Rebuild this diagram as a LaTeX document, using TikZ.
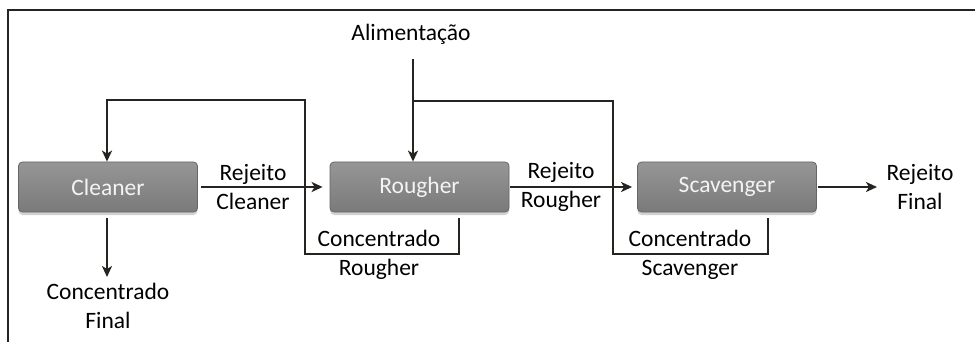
\documentclass[tikz,border=0pt]{standalone}
\usepackage{fontspec}
\setmainfont{Carlito}
\usetikzlibrary{arrows.meta,shadows,calc}
\definecolor{ln}{HTML}{262420}
\definecolor{boxtop}{HTML}{969696}
\definecolor{boxbot}{HTML}{7A7A7A}
\definecolor{boxedge}{HTML}{666666}
\definecolor{boxtxt}{HTML}{F4F4F4}
\begin{document}
\begin{tikzpicture}[x=1pt,y=-1pt,
  every node/.style={font=\fontsize{23.5}{29}\selectfont, inner sep=0pt},
  unit/.style={rectangle, rounded corners=4pt, minimum width=179pt, minimum height=50pt,
    top color=boxtop, bottom color=boxbot, draw=boxedge, line width=0.8pt,
    text=boxtxt, drop shadow={opacity=0.35, shadow xshift=0pt, shadow yshift=-3pt}},
  lbl/.style={align=center, text=black},
  wire/.style={draw=ln, line width=2pt},
  arr/.style={wire, -{Stealth[length=11pt, width=10pt, inset=3pt]}}]
\useasboundingbox (0,0) rectangle (975,342);
\fill[white] (0,0) rectangle (975,342);
% frame (top and left edges)
\draw[ln, line width=1.5pt] (8,342) -- (8,10) -- (975,10);

% units
\node[unit] (C) at (108,187) {Cleaner};
\node[unit] (R) at (419.5,187) {Rougher};
\node[unit] (S) at (727,187) {Scavenger};

% labels
\node[lbl] (A) at (411,34) {Alimentação};
\node[lbl] (lrc) at (253,187) {Rejeito\\Cleaner};
\node[lbl] (lrr) at (561,187) {Rejeito\\Rougher};
\node[lbl] (lrf) at (920,187) {Rejeito\\Final};
\node[lbl] (lcr) at (379,254.5) {Concentrado\\Rougher};
\node[lbl] (lcs) at (690,254.5) {Concentrado\\Scavenger};
\node[lbl] (lcf) at (108,306) {Concentrado\\Final};

% coordinates
\coordinate (feedtop) at (413,59);
\coordinate (feedj) at (413,101);
\coordinate (fin) at (877,187);
\coordinate (cfin) at (107,277);

% main line
\draw[arr, shorten <=3pt, shorten >=7pt] (C.east) -- (R.west);
\draw[arr, shorten <=1pt, shorten >=5pt] (R.east) -- (S.west);
\draw[arr, shorten <=1pt] (S.east) -- (fin);
\draw[arr] ([xshift=-1pt,yshift=-6pt]C.south) -- (cfin);

% feed
\draw[arr] (feedtop) -- (R.north -| feedtop);

% rougher concentrate back to cleaner
\draw[arr] ([xshift=39.5pt,yshift=-6pt]R.south) -- (459,254) -- (305,254) -- (305,100) -- (107,100) -- ([xshift=-1pt]C.north);

% scavenger concentrate back to feed
\draw[wire] ([xshift=41pt,yshift=-6pt]S.south) -- (768,254) -- (613,254) -- (613,101) -- (feedj);
\end{tikzpicture}
\end{document}
